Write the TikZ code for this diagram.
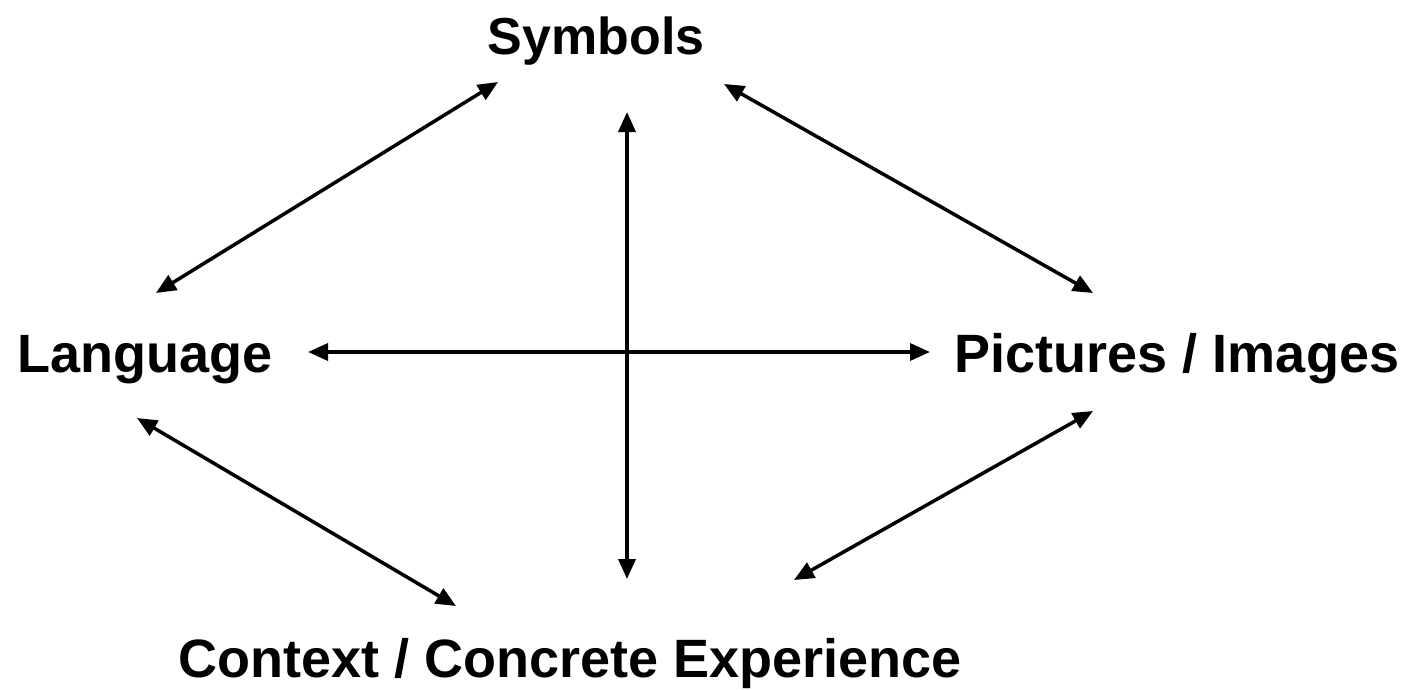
\documentclass[tikz,border=0pt]{standalone}
\usepackage{fontspec}
\setmainfont{Liberation Sans}
\usetikzlibrary{arrows.meta}
\begin{document}
\begin{tikzpicture}[x=1pt,y=-1pt,
  lbl/.style={font=\fontsize{54}{60}\selectfont\bfseries, inner sep=0pt, anchor=base},
  link/.style={line width=3.5pt, {Triangle[length=20pt,width=17pt]}-{Triangle[length=20pt,width=17pt]}}]
\useasboundingbox[fill=white] (0,0) rectangle (1407,690);
\node[lbl, font=\fontsize{52}{60}\selectfont\bfseries] (sym) at (596,55) {Symbols};
\node[lbl] (lang) at (145,372) {Language};
\node[lbl] (pic) at (1177,372) {Pictures / Images};
\node[lbl] (ctx) at (570,677) {Context / Concrete Experience};
\coordinate (s1) at (498,82);
\coordinate (l1) at (156,293);
\coordinate (s2) at (724,84);
\coordinate (p1) at (1093,293);
\coordinate (s3) at (627,112);
\coordinate (c3) at (627,579);
\coordinate (l2) at (308,352);
\coordinate (p2) at (930,352);
\coordinate (l3) at (137,418);
\coordinate (c1) at (456,606);
\coordinate (p3) at (1093,411);
\coordinate (c2) at (794,580);
\draw[link] (s1) -- (l1);
\draw[link] (s2) -- (p1);
\draw[link] (s3) -- (c3);
\draw[link] (l2) -- (p2);
\draw[link] (l3) -- (c1);
\draw[link] (p3) -- (c2);
\end{tikzpicture}
\end{document}
